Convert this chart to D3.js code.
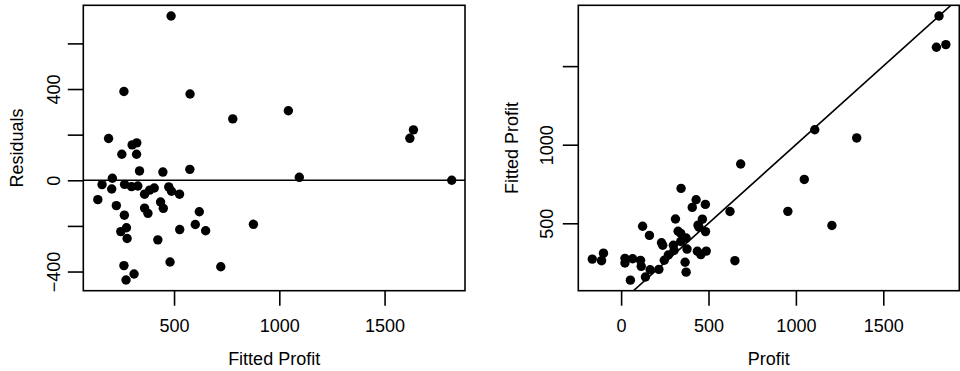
<!DOCTYPE html>
<html>
<head>
<meta charset="utf-8">
<script src="https://cdn.jsdelivr.net/npm/d3@7/dist/d3.min.js"></script>
<style>
  html, body { margin: 0; padding: 0; background: #fff; }
  svg { display: block; font-family: "Liberation Sans", Arial, Helvetica, sans-serif; }
</style>
</head>
<body>
<svg id="chart" width="960" height="371"></svg>
<script>
// Fitted values from the regression model
const fitted = [486, 262, 576, 779, 1043, 189, 301, 323, 252, 322,
                336, 447, 575, 207, 158, 204, 265, 298, 328, 360,
                384, 406, 475, 488, 526, 138, 226, 360, 376, 436,
                449, 264, 620, 247, 274, 277, 423, 527, 601, 650,
                262, 310, 272, 481, 722, 877, 1637, 1620, 1095, 1819];
// Residuals (observed minus fitted)
const residuals = [720, 389, 378, 269, 305, 183, 155, 164, 114, 114,
                   41, 36, 48, 9, -19, -38, -18, -28, -25, -61,
                   -43, -34, -29, -48, -61, -85, -111, -122, -145, -95,
                   -123, -153, -138, -225, -208, -255, -261, -216, -194, -221,
                   -374, -411, -437, -358, -379, -193, 221, 184, 13, 0];
// Observed profit
const profit = [1206, 651, 954, 1048, 1348, 372, 456, 487, 366, 436,
                377, 483, 623, 216, 139, 166, 247, 270, 303, 299,
                341, 372, 446, 440, 465, 53, 115, 238, 231, 341,
                326, 111, 482, 22, 66, 22, 162, 311, 407, 429,
                -112, -101, -165, 123, 343, 684, 1858, 1804, 1108, 1819];

// Axis ticks and their labels
const fittedTicks = [500, 1000, 1500];
const fittedTickLabels = ["500", "1000", "1500"];
const residTicks = [-400, -200, 0, 200, 400, 600];
const residTickLabels = ["\u2212400", "", "0", "", "400", ""];
const profitTicks = [0, 500, 1000, 1500];
const profitTickLabels = ["0", "500", "1000", "1500"];
const fittedYTicks = [500, 1000, 1500];
const fittedYTickLabels = ["500", "1000", ""];

const svg = d3.select("#chart");
const FONT = 18;
const LW = 1.6;

function panel(opts) {
  const { left, right, top, bottom } = opts.box;
  const x = d3.scaleLinear().domain(opts.xDomain).range([left, right]);
  const y = d3.scaleLinear().domain(opts.yDomain).range([bottom, top]);
  const g = svg.append("g");

  const clipId = "clip-" + opts.id;
  svg.append("clipPath").attr("id", clipId)
    .append("rect").attr("x", left).attr("y", top)
    .attr("width", right - left).attr("height", bottom - top);

  // bottom axis
  const xAxis = d3.axisBottom(x)
    .tickValues(opts.xTicks)
    .tickFormat((d, i) => opts.xLabels[i])
    .tickSize(15);
  const gx = g.append("g").attr("transform", `translate(0,${bottom})`).call(xAxis);
  gx.select(".domain").remove();
  gx.selectAll(".tick line").attr("stroke", "#000").attr("stroke-width", LW);
  gx.selectAll(".tick text")
    .attr("y", 41.8).attr("dy", 0)
    .attr("fill", "#000").style("font-size", FONT + "px")
    .style("font-family", "'Liberation Sans', Arial, Helvetica, sans-serif");

  // left axis with rotated labels
  const yAxis = d3.axisLeft(y)
    .tickValues(opts.yTicks)
    .tickFormat((d, i) => opts.yLabels[i])
    .tickSize(15.5);
  const gy = g.append("g").attr("transform", `translate(${left},0)`).call(yAxis);
  gy.select(".domain").remove();
  gy.selectAll(".tick line").attr("stroke", "#000").attr("stroke-width", LW);
  gy.selectAll(".tick text")
    .attr("transform", "rotate(-90)")
    .attr("x", 0).attr("y", -opts.yLabelOffset).attr("dy", 0)
    .attr("text-anchor", "middle")
    .attr("fill", "#000").style("font-size", FONT + "px")
    .style("font-family", "'Liberation Sans', Arial, Helvetica, sans-serif");

  // reference line
  if (opts.refLine === "zero") {
    g.append("line")
      .attr("x1", left).attr("x2", right)
      .attr("y1", y(0)).attr("y2", y(0))
      .attr("stroke", "#000").attr("stroke-width", LW);
  } else if (opts.refLine === "identity") {
    const lo = Math.min(opts.xDomain[0], opts.yDomain[0]);
    const hi = Math.max(opts.xDomain[1], opts.yDomain[1]);
    g.append("line")
      .attr("clip-path", `url(#${clipId})`)
      .attr("x1", x(lo)).attr("y1", y(lo))
      .attr("x2", x(hi)).attr("y2", y(hi))
      .attr("stroke", "#000").attr("stroke-width", LW);
  }

  // points
  g.append("g").selectAll("circle")
    .data(opts.xs.map((v, i) => [v, opts.ys[i]]))
    .join("circle")
    .attr("cx", d => x(d[0]))
    .attr("cy", d => y(d[1]))
    .attr("r", 4.7)
    .attr("fill", "#000");

  // frame
  g.append("rect")
    .attr("x", left).attr("y", top)
    .attr("width", right - left).attr("height", bottom - top)
    .attr("fill", "none").attr("stroke", "#000").attr("stroke-width", LW);

  // axis titles
  g.append("text")
    .attr("x", (left + right) / 2).attr("y", 365)
    .attr("text-anchor", "middle")
    .style("font-size", FONT + "px")
    .text(opts.xTitle);
  g.append("text")
    .attr("transform", `translate(${opts.yTitleX},${(top + bottom) / 2}) rotate(-90)`)
    .attr("text-anchor", "middle")
    .style("font-size", FONT + "px")
    .text(opts.yTitle);
}

panel({
  id: "resid",
  box: { left: 83.3, right: 465, top: 5.3, bottom: 290.7 },
  xDomain: [69, 1882], yDomain: [-484, 767],
  xTicks: fittedTicks, xLabels: fittedTickLabels,
  yTicks: residTicks, yLabels: residTickLabels,
  yLabelOffset: 23.3,
  xs: fitted, ys: residuals,
  refLine: "zero",
  xTitle: "Fitted Profit", yTitle: "Residuals", yTitleX: 23
});

panel({
  id: "fit",
  box: { left: 578.3, right: 959.3, top: 5.3, bottom: 290.7 },
  xDomain: [-245, 1935], yDomain: [71, 1887],
  xTicks: profitTicks, xLabels: profitTickLabels,
  yTicks: fittedYTicks, yLabels: fittedYTickLabels,
  yLabelOffset: 25,
  xs: profit, ys: fitted,
  refLine: "identity",
  xTitle: "Profit", yTitle: "Fitted Profit", yTitleX: 518
});
</script>
</body>
</html>
